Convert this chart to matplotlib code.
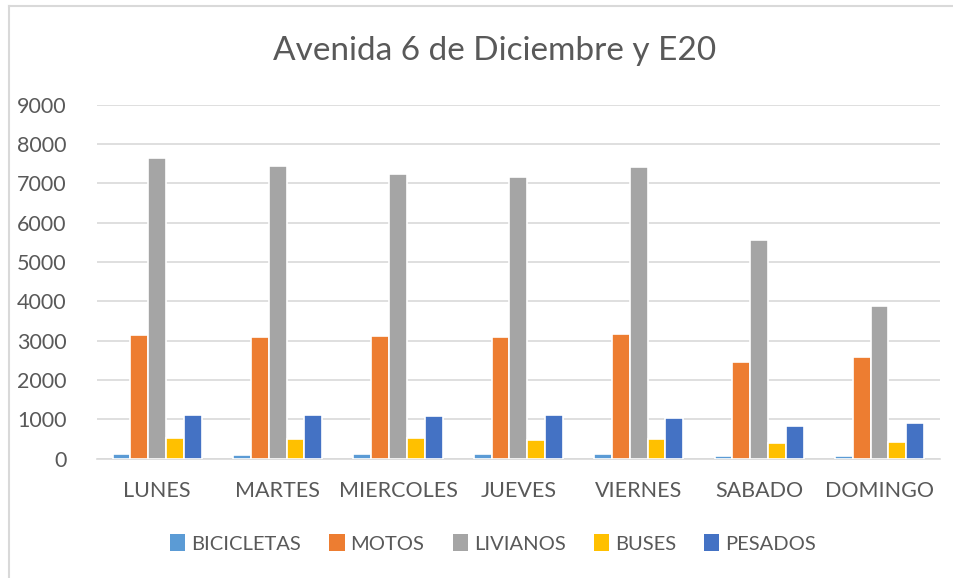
import matplotlib.pyplot as plt
import numpy as np
from matplotlib.lines import Line2D

dias = ['LUNES', 'MARTES', 'MIERCOLES', 'JUEVES', 'VIERNES', 'SABADO', 'DOMINGO']
bicicletas = [110, 95, 110, 120, 115, 70, 70]
motos = [3140, 3090, 3130, 3095, 3180, 2460, 2595]
livianos = [7645, 7450, 7240, 7170, 7425, 5560, 3885]
buses = [525, 510, 525, 485, 500, 395, 425]
pesados = [1105, 1105, 1085, 1105, 1035, 830, 900]

series = ['BICICLETAS', 'MOTOS', 'LIVIANOS', 'BUSES', 'PESADOS']
colores = ['#5B9BD5', '#ED7D31', '#A5A5A5', '#FFC000', '#4472C4']
texto = '#595959'

plt.rcParams['font.family'] = ['Lato', 'DejaVu Sans']

fig = plt.figure(figsize=(9.54, 5.78), dpi=100)
ax = fig.add_axes([0.1017, 0.2064, 0.8833, 0.6125])

x = np.arange(len(dias))
w = 0.148
datos = [bicicletas, motos, livianos, buses, pesados]
for i, (vals, c, nom) in enumerate(zip(datos, colores, series)):
    ax.bar(x + (i - 2) * w, vals, w, color=c, edgecolor='white', linewidth=1.2,
           label=nom, zorder=3)

ax.set_xlim(-0.5, len(dias) - 0.5)
ax.set_ylim(0, 9000)
ax.set_yticks(np.arange(0, 9001, 1000))
ax.set_xticks(x)
ax.set_xticklabels(dias)
ax.yaxis.grid(True, color='#D9D9D9', linewidth=1.2, zorder=0)
for s in ['top', 'right', 'left']:
    ax.spines[s].set_visible(False)
ax.spines['bottom'].set_color('#D9D9D9')
ax.spines['bottom'].set_linewidth(1.2)
ax.tick_params(axis='both', length=0, colors=texto, labelsize=15.5)
ax.tick_params(axis='x', pad=16)
ax.tick_params(axis='y', pad=22)

fig.text(0.518, 0.912, 'Avenida 6 de Diciembre y E20', ha='center', va='center',
         fontsize=24, color=texto)

leg = fig.legend(loc='center', bbox_to_anchor=(0.517, 0.06), ncol=5, frameon=False,
                 fontsize=14.5, handlelength=0.75, handleheight=0.95,
                 columnspacing=1.4, handletextpad=0.3)
for t in leg.get_texts():
    t.set_color(texto)
for h in leg.legend_handles:
    h.set_linewidth(0)

# borde del grafico
fig.add_artist(Line2D([0.0094, 0.0094], [0, 0.99], transform=fig.transFigure,
                      color='#D9D9D9', linewidth=1.5))
fig.add_artist(Line2D([0.0094, 1], [0.99, 0.99], transform=fig.transFigure,
                      color='#D9D9D9', linewidth=1.5))

plt.savefig('out.png', dpi=100)
